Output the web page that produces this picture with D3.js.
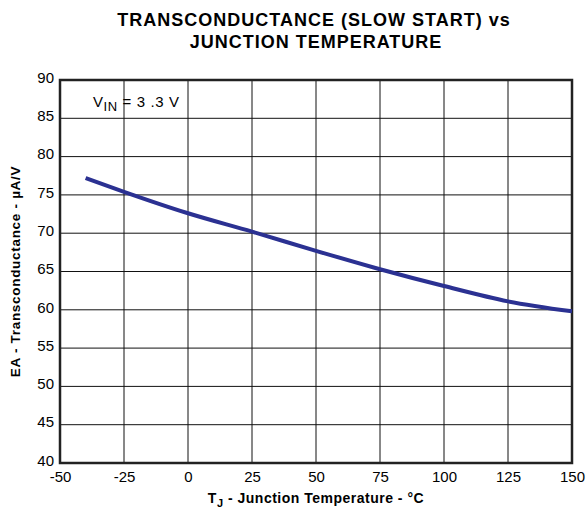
<!DOCTYPE html>
<html>
<head>
<meta charset="utf-8">
<script src="https://cdn.jsdelivr.net/npm/d3@7"></script>
<style>
  body { margin: 0; background: #fff; }
  text { font-family: "Liberation Sans", Arial, sans-serif; }
</style>
</head>
<body>
<div class="myChart"></div>
<script>
var svgWidth = 586;
var svgHeight = 512;

var chartMargin = { top: 80, right: 14, bottom: 49, left: 60 };
var chartWidth = svgWidth - chartMargin.left - chartMargin.right;
var chartHeight = svgHeight - chartMargin.top - chartMargin.bottom;

// data
var temps = [-40, -25, 0, 25, 50, 75, 100, 125, 150];
var gm = [77.2, 75.4, 72.6, 70.2, 67.7, 65.3, 63.1, 61.1, 59.8];
var xTicks = [-50, -25, 0, 25, 50, 75, 100, 125, 150];
var yTicks = [40, 45, 50, 55, 60, 65, 70, 75, 80, 85, 90];

var svg = d3.select(".myChart")
  .append("svg")
  .attr("width", svgWidth)
  .attr("height", svgHeight);

var chart = svg.append("g")
  .attr("transform", "translate(" + chartMargin.left + "," + chartMargin.top + ")");

var xLinearScale = d3.scaleLinear().domain([-50, 150]).range([0, chartWidth]);
var yLinearScale = d3.scaleLinear().domain([40, 90]).range([chartHeight, 0]);

// grid
chart.selectAll(".vgrid")
  .data(xTicks)
  .enter().append("line")
    .attr("x1", function(d) { return xLinearScale(d); })
    .attr("x2", function(d) { return xLinearScale(d); })
    .attr("y1", 0)
    .attr("y2", chartHeight)
    .attr("stroke", "#111")
    .attr("stroke-width", 1);

chart.selectAll(".hgrid")
  .data(yTicks)
  .enter().append("line")
    .attr("y1", function(d) { return yLinearScale(d); })
    .attr("y2", function(d) { return yLinearScale(d); })
    .attr("x1", 0)
    .attr("x2", chartWidth)
    .attr("stroke", "#111")
    .attr("stroke-width", 1);

// tick labels via axes (plain hyphen minus like the original)
var fmt = function(d) { return String(d); };
var bottomAxis = d3.axisBottom(xLinearScale).tickValues(xTicks).tickFormat(fmt).tickSize(0).tickPadding(10);
var leftAxis = d3.axisLeft(yLinearScale).tickValues(yTicks).tickFormat(fmt).tickSize(0).tickPadding(6);

var gx = chart.append("g")
  .attr("transform", "translate(0," + chartHeight + ")")
  .call(bottomAxis);
var gy = chart.append("g").call(leftAxis);
[gx, gy].forEach(function(g) {
  g.select(".domain").remove();
  g.selectAll("text")
    .attr("fill", "#000")
    .style("font-size", "15px")
    .style("font-family", "'Liberation Sans', Arial, sans-serif");
});
gy.selectAll("text").attr("dy", "0.15em");
gx.selectAll("text").attr("dy", "0.6em");

// frame
chart.append("rect")
  .attr("x", 0)
  .attr("y", 0)
  .attr("width", chartWidth)
  .attr("height", chartHeight)
  .attr("fill", "none")
  .attr("stroke", "#222")
  .attr("stroke-width", 2.5);

// curve
var line = d3.line()
  .x(function(d, i) { return xLinearScale(temps[i]); })
  .y(function(d) { return yLinearScale(d); })
  .curve(d3.curveMonotoneX);

chart.append("path")
  .datum(gm)
  .attr("d", line)
  .attr("fill", "none")
  .attr("stroke", "#2b3192")
  .attr("stroke-width", 4);

// annotation
var note = chart.append("text")
  .attr("x", 33)
  .attr("y", 27)
  .style("font-size", "15px")
  .style("letter-spacing", "0.6px")
  .attr("fill", "#000");
note.append("tspan").text("V");
note.append("tspan").attr("dy", 4).style("font-size", "13px").text("IN");
note.append("tspan").attr("dy", -4).text(" = 3 .3 V");

// titles
svg.append("text")
  .attr("x", 314)
  .attr("y", 26)
  .attr("text-anchor", "middle")
  .style("font-size", "18px")
  .style("letter-spacing", "1px")
  .style("font-weight", "bold")
  .text("TRANSCONDUCTANCE (SLOW START) vs");
svg.append("text")
  .attr("x", 316)
  .attr("y", 48)
  .attr("text-anchor", "middle")
  .style("font-size", "18px")
  .style("letter-spacing", "1px")
  .style("font-weight", "bold")
  .text("JUNCTION TEMPERATURE");

svg.append("text")
  .attr("transform", "translate(20," + (chartMargin.top + chartHeight / 2) + ") rotate(-90)")
  .attr("text-anchor", "middle")
  .style("font-size", "13.5px")
  .style("letter-spacing", "0.7px")
  .style("font-weight", "bold")
  .text("EA - Transconductance - \u00b5A/V");

var xl = svg.append("text")
  .attr("x", chartMargin.left + chartWidth / 2)
  .attr("y", 503)
  .attr("text-anchor", "middle")
  .style("font-size", "14px")
  .style("letter-spacing", "0.5px")
  .style("font-weight", "bold");
xl.append("tspan").text("T");
xl.append("tspan").attr("dy", 4).style("font-size", "11px").text("J");
xl.append("tspan").attr("dy", -4).text(" - Junction Temperature - \u00b0C");
</script>
</body>
</html>
